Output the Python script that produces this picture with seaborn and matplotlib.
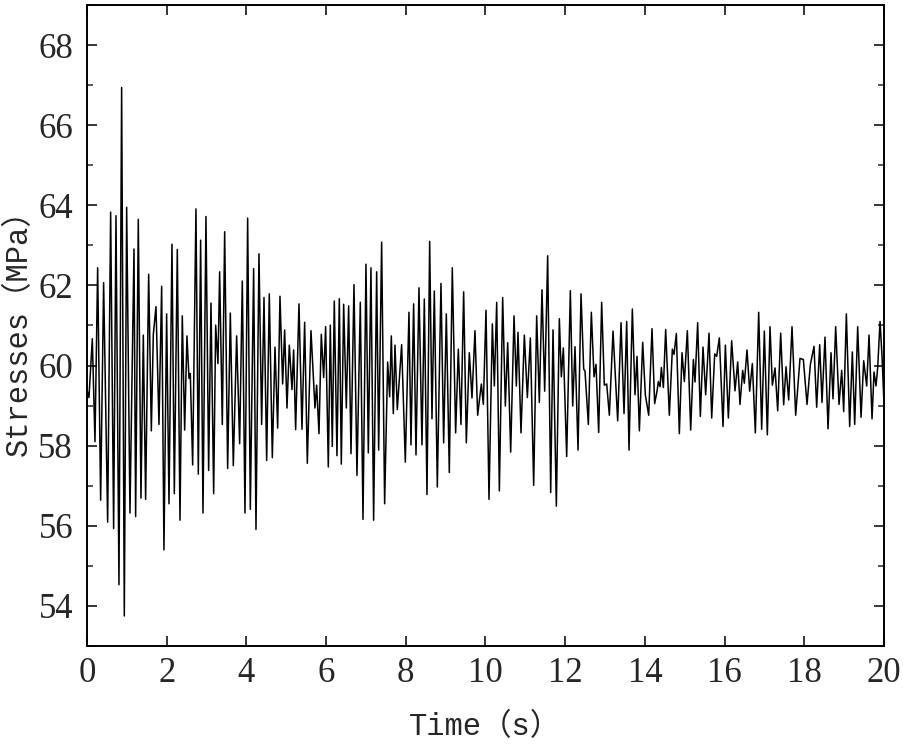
import matplotlib
matplotlib.use("Agg")
import matplotlib.pyplot as plt
import seaborn as sns
import pandas as pd
from matplotlib.ticker import MultipleLocator

# signal (turning points of the stress trace)
time_s = [
    0.000, 0.050, 0.134, 0.201, 0.268, 0.343, 0.418, 0.519, 0.594, 0.669, 0.728, 0.803, 0.870,
    0.937, 0.996, 1.079, 1.180, 1.221, 1.288, 1.355, 1.414, 1.472, 1.548, 1.615, 1.665,
    1.732, 1.807, 1.874, 1.932, 1.999, 2.058, 2.133, 2.192, 2.267, 2.334, 2.392, 2.451, 2.509,
    2.560, 2.593, 2.652, 2.735, 2.794, 2.852, 2.911, 2.986, 3.053, 3.112, 3.179, 3.229, 3.287, 3.329,
    3.396, 3.455, 3.530, 3.597, 3.672, 3.756, 3.831, 3.898, 3.965, 4.032, 4.099, 4.182, 4.241,
    4.316, 4.383, 4.442, 4.509, 4.575, 4.651, 4.718, 4.785, 4.843, 4.910, 4.960,
    5.019, 5.077, 5.144, 5.186, 5.236, 5.320, 5.395, 5.462, 5.529, 5.621, 5.721, 5.763, 5.822,
    5.880, 5.939, 5.989, 6.056, 6.106, 6.156, 6.206, 6.273, 6.332, 6.382, 6.441, 6.508, 6.566,
    6.625, 6.700, 6.775, 6.859, 6.926, 7.001, 7.060, 7.126, 7.193, 7.269, 7.319, 7.394, 7.469,
    7.545, 7.595, 7.637, 7.687, 7.729, 7.787, 7.896, 7.988, 8.080, 8.130, 8.197,
    8.256, 8.331, 8.406, 8.465, 8.532, 8.599, 8.657, 8.716, 8.791, 8.883, 8.950, 9.017, 9.092,
    9.167, 9.251, 9.318, 9.385, 9.452, 9.519, 9.594, 9.661, 9.736, 9.803,
    9.896, 9.946, 10.013, 10.088, 10.172, 10.222, 10.281, 10.348, 10.431, 10.498, 10.557, 10.632,
    10.716, 10.774, 10.816, 10.891, 10.975, 11.050, 11.126, 11.209, 11.284, 11.351, 11.418,
    11.485, 11.560, 11.636, 11.694, 11.778, 11.853, 11.903, 11.954, 12.037, 12.129, 12.188, 12.246,
    12.322, 12.397, 12.464, 12.497, 12.581, 12.656, 12.723, 12.773, 12.840, 12.915, 12.982, 13.041, 13.108,
    13.200, 13.317, 13.401, 13.476, 13.543, 13.601, 13.685, 13.752, 13.802, 13.861, 13.944, 14.011,
    14.095, 14.178, 14.245, 14.304, 14.337, 14.379, 14.413, 14.463, 14.521, 14.613, 14.689,
    14.730, 14.789, 14.864, 14.931, 14.990, 15.065, 15.149, 15.216, 15.257, 15.324, 15.391, 15.458,
    15.525, 15.609, 15.676, 15.751, 15.801, 15.868, 15.960, 16.019, 16.094, 16.177, 16.261, 16.328,
    16.386, 16.453, 16.495, 16.562, 16.629, 16.696, 16.771, 16.855, 16.930, 16.997, 17.072, 17.139,
    17.198, 17.265, 17.332, 17.407, 17.482, 17.541, 17.608, 17.691, 17.783, 17.892,
    17.976, 18.068, 18.151, 18.243, 18.310, 18.386, 18.444, 18.519, 18.595, 18.670, 18.720, 18.787,
    18.871, 18.938, 18.988, 19.055, 19.138, 19.205, 19.264, 19.339, 19.423, 19.490, 19.565, 19.624,
    19.699, 19.749, 19.799, 19.841, 19.900, 19.950, 20.000,
]

stress_mpa = [
    59.40, 59.20, 60.67, 58.10, 62.44, 56.64, 62.07, 56.09, 63.83, 55.93, 63.74, 54.53, 66.94,
    53.75, 63.95, 56.32, 62.91, 56.23, 63.65, 56.69, 60.76, 56.66, 62.28, 58.37, 60.78,
    61.47, 58.53, 61.98, 55.40, 61.29, 56.55, 63.03, 56.80, 62.90, 56.14, 61.24, 58.39, 60.74,
    59.68, 59.80, 57.52, 63.91, 57.29, 63.13, 56.32, 63.72, 57.38, 61.56, 56.80, 61.01, 60.05, 62.34,
    58.53, 63.34, 57.43, 61.31, 57.50, 60.74, 58.05, 62.11, 56.32, 63.68, 56.41, 62.42, 55.91,
    62.79, 58.53, 61.70, 57.63, 61.79, 57.70, 60.46, 58.44, 61.73, 59.54, 60.89,
    58.94, 60.51, 59.40, 60.39, 58.40, 61.54, 58.41, 61.08, 57.56, 60.87, 58.94, 59.51, 58.30,
    60.78, 59.70, 60.97, 57.47, 61.01, 57.98, 61.61, 57.75, 61.67, 57.54, 61.53, 58.94, 61.49,
    57.80, 62.02, 57.26, 61.58, 56.16, 62.53, 57.82, 62.44, 56.14, 62.34, 57.89, 63.08, 56.55,
    60.09, 59.22, 60.74, 58.80, 60.51, 58.90, 60.52, 57.59, 61.33, 58.02, 61.54,
    57.77, 61.94, 58.02, 61.66, 56.78, 63.10, 58.67, 61.86, 56.97, 62.05, 58.07, 61.29, 57.33,
    62.44, 58.32, 60.41, 58.53, 61.84, 58.07, 60.32, 59.19, 60.87, 58.76,
    59.54, 59.03, 61.38, 56.66, 61.04, 59.49, 61.58, 56.87, 61.70, 58.99, 60.57, 57.84,
    61.24, 59.49, 60.83, 58.32, 60.76, 59.20, 60.69, 57.01, 61.24, 59.08, 61.89,
    59.36, 62.74, 56.83, 60.89, 56.49, 61.17, 59.72, 60.44, 57.73, 61.87, 58.99, 60.47,
    57.89, 61.79, 59.91, 59.86, 58.53, 61.33, 59.72, 60.03, 58.33, 61.58, 59.51, 59.54, 58.76,
    60.86, 58.62, 61.07, 58.80, 61.10, 57.89, 61.41, 59.27, 60.23, 58.37, 60.58, 59.27,
    58.76, 60.92, 59.05, 59.36, 59.60, 59.47, 59.95, 59.45, 60.90, 58.76, 60.41,
    60.28, 60.80, 58.30, 60.32, 59.60, 60.87, 58.39, 60.15, 59.59, 61.07, 58.73, 60.46,
    59.27, 60.81, 58.69, 60.29, 60.23, 60.69, 58.48, 60.51, 58.69, 60.62, 59.37, 60.09,
    59.03, 59.88, 59.56, 60.39, 59.36, 60.05, 58.32, 61.33, 58.41, 60.86, 58.27, 60.97,
    59.51, 59.94, 58.87, 60.81, 59.02, 59.97, 59.14, 60.97, 58.76, 60.18,
    60.15, 59.03, 60.02, 60.48, 58.96, 60.52, 59.08, 60.71, 58.42, 60.32, 59.17, 60.97,
    59.03, 59.88, 58.85, 61.29, 58.48, 60.34, 58.53, 60.97, 58.71, 60.12, 59.49, 60.76,
    58.67, 59.84, 59.49, 59.95, 61.10, 60.23, 59.03,
]

x_ticks = [0, 2, 4, 6, 8, 10, 12, 14, 16, 18, 20]
y_ticks = [54, 56, 58, 60, 62, 64, 66, 68]
x_label = "Time（s）"
y_label = "Stresses（MPa）"


def main():
    sns.set_style("ticks")
    plt.rcParams["font.family"] = ["Liberation Serif", "Noto Sans CJK SC", "DejaVu Sans"]
    label_font = ["Liberation Mono", "Noto Sans CJK SC", "DejaVu Sans"]

    df = pd.DataFrame({"time": time_s, "stress": stress_mpa})

    fig = plt.figure(figsize=(9.04, 7.45), dpi=100)
    ax = fig.add_axes([0.0962, 0.1329, 0.8817, 0.8604])

    sns.lineplot(data=df, x="time", y="stress", ax=ax, color="black",
                 linewidth=1.1, estimator=None, sort=False)

    ax.set_xlim(0, 20)
    ax.set_ylim(53, 69)
    ax.set_xticks(x_ticks)
    ax.set_yticks(y_ticks)
    ax.yaxis.set_minor_locator(MultipleLocator(1))

    ax.tick_params(axis="both", which="major", direction="in", length=7, width=1.3,
                   labelsize=25, top=True, right=True)
    ax.tick_params(axis="x", which="major", pad=8)
    ax.tick_params(axis="y", which="major", pad=10)
    ax.tick_params(axis="y", which="minor", direction="in", length=4, width=1.1,
                   right=True)
    for spine in ax.spines.values():
        spine.set_visible(True)
        spine.set_linewidth(1.4)
        spine.set_color("black")

    ax.set_xlabel(x_label, fontsize=22, family=label_font, labelpad=16)
    ax.set_ylabel(y_label, fontsize=22, family=label_font)
    ax.yaxis.set_label_coords(-0.066, 0.5)

    fig.savefig("out.png", dpi=100, facecolor="white")
    plt.close(fig)


if __name__ == "__main__":
    main()
